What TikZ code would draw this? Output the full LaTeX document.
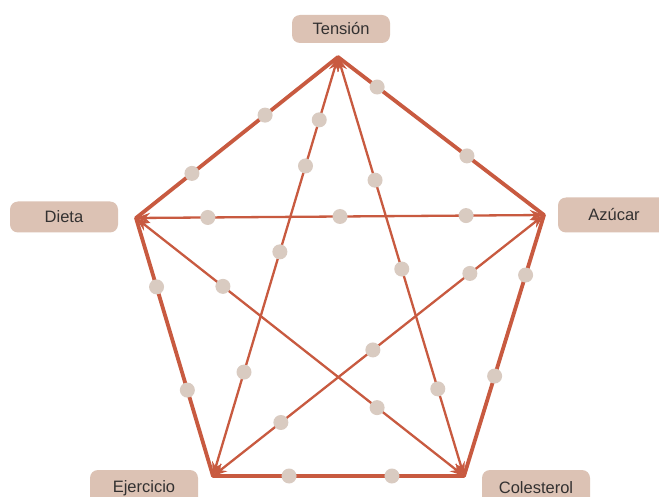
\documentclass[tikz,border=0pt]{standalone}
\usepackage{fontspec}
\setmainfont{Liberation Sans}
\usetikzlibrary{arrows.meta}
\definecolor{linec}{HTML}{C85A40}
\definecolor{dotc}{HTML}{D9CBC1}
\definecolor{boxc}{HTML}{DCC2B4}
\definecolor{txtc}{HTML}{333131}
\tikzset{
  edge/.style={draw=linec, line width=3.8pt, line join=round, line cap=round},
  diag/.style={draw=linec, line width=2.3pt, {Stealth[length=14pt,width=10pt]}-{Stealth[length=14pt,width=10pt]}},
  dot/.style={circle, fill=dotc, inner sep=0pt, minimum size=15pt},
  lab/.style={rounded corners=8pt, fill=boxc, text=txtc, font=\fontsize{16.5}{18}\selectfont, minimum height=30pt, inner sep=0pt}
}
\begin{document}
\begin{tikzpicture}[x=1pt,y=-1pt]
\useasboundingbox (0,0) rectangle (659,497);
\clip (0,0) rectangle (659,497);
\fill[white] (0,0) rectangle (659,497);
\coordinate (T) at (338,57);
\coordinate (A) at (544,215);
\coordinate (C) at (464,476);
\coordinate (E) at (213,476);
\coordinate (D) at (136,218);
% labels
\node[lab, minimum width=98pt, minimum height=28pt] (lT) at (341,29) {Tensión};
\node[lab, minimum width=108pt, minimum height=31pt] (lD) at (64,217) {Dieta};
\node[lab, minimum width=112pt, minimum height=35pt] (lA) at (614,215) {Azúcar};
\node[lab, minimum width=108pt, minimum height=36pt] (lE) at (144,488) {Ejercicio};
\node[lab, minimum width=108pt, minimum height=36pt] (lC) at (536,488) {Colesterol};
% diagonals
\draw[diag] (D) -- (A);
\draw[diag] (T) -- (E);
\draw[diag] (T) -- (C);
\draw[diag] (E) -- (A);
\draw[diag] (D) -- (C);
% pentagon
\draw[edge] (T) -- (A) -- (C) -- (E) -- (D) -- cycle;
% dots on edges
\path (T) -- (A) node[dot,pos=0.19]{} node[dot,pos=0.626]{};
\path (D) -- (T) node[dot,pos=0.277]{} node[dot,pos=0.639]{};
\path (D) -- (E) node[dot,pos=0.267]{} node[dot,pos=0.667]{};
\path (E) -- (C) node[dot,pos=0.303]{} node[dot,pos=0.713]{};
\path (C) -- (A) node[dot,pos=0.383]{} node[dot,pos=0.77]{};
% dots on diagonals
\path (D) -- (A) node[dot,pos=0.176]{} node[dot,pos=0.5]{} node[dot,pos=0.809]{};
\path (T) -- (E) node[dot,pos=0.15]{} node[dot,pos=0.26]{} node[dot,pos=0.465]{} node[dot,pos=0.752]{};
\path (T) -- (C) node[dot,pos=0.294]{} node[dot,pos=0.506]{} node[dot,pos=0.792]{};
\path (E) -- (A) node[dot,pos=0.205]{} node[dot,pos=0.483]{} node[dot,pos=0.776]{};
\path (D) -- (C) node[dot,pos=0.265]{} node[dot,pos=0.735]{};
\end{tikzpicture}
\end{document}
